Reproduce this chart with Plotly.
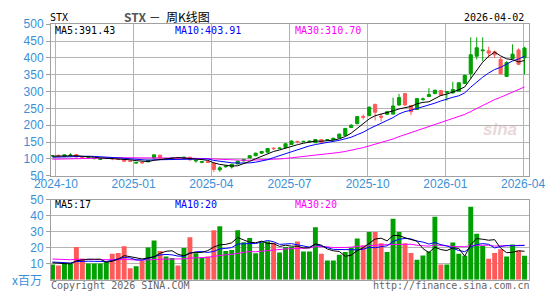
import plotly.graph_objects as go

# ---------------- data ----------------
x_tick_vals = [0.58, 13.58, 26.58, 39.67, 52.75, 65.75, 78.75]
x_tick_text = ["2024-10", "2025-01", "2025-04", "2025-07", "2025-10", "2026-01", "2026-04"]

opens = [109.0, 111.0, 107.5, 110.5, 113.0, 105.0, 103.0, 100.5, 98.5, 101.0,
         101.5, 100.5, 98.0, 94.0, 87.5, 90.0, 91.5, 102.5, 111.0, 100.0,
         101.0, 102.5, 101.5, 105.0, 94.0, 90.0, 92.0, 87.5, 67.5, 76.5,
         76.0, 85.0, 94.0, 103.0, 109.5, 117.0, 120.0, 132.0, 130.5, 134.0,
         143.0, 152.0, 151.0, 150.5, 148.0, 157.0, 156.0, 157.0, 162.5, 169.5,
         193.0, 204.5, 226.0, 228.5, 262.0, 227.0, 232.5, 233.0, 260.0, 294.0,
         258.5, 247.0, 276.0, 285.0, 294.0, 303.0, 297.0, 296.0, 301.0, 324.0,
         353.0, 405.0, 421.0, 421.0, 418.0, 395.0, 345.0, 398.0, 423.5, 400.0]
highs = [111.5, 112.0, 113.0, 117.0, 114.0, 106.0, 105.0, 103.0, 102.0, 102.5,
         104.0, 101.5, 99.0, 95.0, 91.0, 92.0, 97.0, 113.0, 112.0, 101.5,
         104.0, 104.0, 106.0, 106.0, 98.0, 93.0, 93.0, 89.0, 79.0, 80.0,
         85.0, 95.0, 99.5, 111.0, 118.5, 123.0, 132.0, 134.0, 134.0, 146.0,
         155.0, 153.0, 153.5, 153.5, 158.5, 158.0, 158.5, 162.5, 175.0, 191.0,
         203.0, 226.0, 232.0, 256.0, 263.5, 235.0, 241.0, 282.0, 293.0, 295.0,
         260.0, 281.0, 282.0, 310.0, 305.0, 304.0, 302.0, 329.0, 327.0, 350.0,
         461.0, 461.0, 461.0, 433.0, 422.0, 402.0, 390.0, 440.0, 428.0, 433.0]
lows = [106.0, 106.0, 106.5, 109.0, 104.0, 101.0, 101.0, 99.5, 97.5, 100.0,
        96.0, 97.5, 92.0, 91.0, 86.0, 85.0, 90.0, 100.0, 101.0, 99.0,
        100.0, 100.5, 101.0, 96.0, 88.5, 87.0, 88.5, 61.0, 62.0, 74.0,
        71.0, 84.0, 93.0, 102.0, 108.0, 115.0, 118.0, 126.0, 129.0, 133.0,
        142.0, 146.0, 150.0, 149.0, 147.0, 148.0, 155.0, 156.5, 161.0, 169.0,
        192.0, 203.0, 217.0, 226.5, 214.0, 211.0, 230.0, 232.0, 258.0, 258.0,
        230.0, 246.0, 273.0, 284.0, 292.0, 287.0, 273.0, 294.0, 300.0, 322.0,
        339.0, 395.0, 390.0, 400.0, 400.0, 351.0, 343.0, 396.0, 378.0, 351.0]
closes = [109.8, 107.5, 112.0, 111.5, 106.0, 102.5, 103.5, 101.5, 101.0, 101.5,
          100.5, 98.5, 93.0, 93.0, 89.5, 88.5, 96.0, 112.0, 103.0, 100.8,
          103.0, 101.5, 105.0, 97.0, 95.0, 91.5, 89.5, 68.5, 73.5, 78.5,
          84.0, 93.5, 98.0, 109.5, 117.0, 122.0, 131.0, 130.5, 132.0, 145.0,
          153.0, 150.5, 152.0, 152.5, 157.5, 149.5, 157.0, 161.5, 173.5, 190.5,
          200.0, 225.5, 223.5, 253.5, 238.5, 224.0, 240.0, 257.0, 282.0, 260.0,
          240.0, 279.0, 278.0, 291.0, 304.0, 289.0, 300.0, 306.0, 326.0, 348.0,
          409.0, 430.0, 423.0, 414.0, 409.0, 353.0, 386.0, 411.0, 381.0, 429.0]
volumes = [9.5, 8.9, 10.1, 10.1, 20.4, 13.1, 10.1, 10.1, 10.1, 11.1,
           16.1, 16.7, 20.8, 7.1, 8.3, 11.7, 20.0, 24.4, 17.9, 14.5,
           13.5, 8.9, 19.8, 26.4, 16.5, 13.5, 14.5, 30.9, 33.3, 17.9,
           18.5, 30.9, 23.4, 26.0, 16.5, 23.4, 23.8, 23.0, 16.9, 20.4,
           20.4, 23.8, 17.5, 17.5, 32.7, 16.1, 11.9, 11.9, 15.5, 17.3,
           20.0, 25.7, 21.4, 29.8, 29.8, 22.8, 17.3, 38.1, 29.8, 22.8,
           16.7, 12.5, 15.1, 17.5, 39.3, 9.5, 9.5, 23.2, 16.1, 14.9,
           45.5, 28.6, 21.0, 13.1, 16.7, 19.0, 14.5, 22.0, 18.1, 14.9]
# weeks before the first visible candle (only used for moving averages)
prior_closes = [90, 92, 91, 89, 87, 88, 91, 93, 94, 96, 97, 99, 101, 103, 104,
                102, 99, 100, 102, 102, 100, 103, 101, 103, 103, 104, 106.5, 108.5, 111]
prior_volumes = [14, 15, 13, 12, 16, 14, 13, 12, 15, 14, 13, 14, 16, 13, 12,
                 14, 15, 13, 14, 14, 12, 11, 12, 11.5, 11, 10, 11, 11.5, 10.5]

header_left = "STX"
title_text = "<b><span style='color:#555'>STX</span></b> －  周K线图"
date_text = "2026-04-02"
price_ma_text = ["MA5:391.43", "MA10:403.91", "MA30:310.70"]
vol_ma_text = ["MA5:17", "MA10:20", "MA30:20"]
unit_text = "x百万"
copyright_text = "Copyright 2026 SINA.COM"
url_text = "http://finance.sina.com.cn"
price_ticks = [50, 100, 150, 200, 250, 300, 350, 400, 450, 500]
vol_ticks = [10, 20, 30, 40, 50]

# ---------------- helpers ----------------
GREEN = "#00a000"
RED = "#ff5a5a"
BLUE_LBL = "#3a8fd8"
MA_COLORS = ["#000000", "#0000ff", "#ff00ff"]
GRID = "#b4b4b4"
FRAME = "#a0a0a0"
W, H = 545, 300
L, R = 51, 531

idx = list(range(len(closes)))


def moving_avg(prior, vals, n):
    allv = list(prior) + list(vals)
    off = len(prior)
    out = []
    for i in range(len(vals)):
        j = off + i
        win = allv[max(0, j - n + 1): j + 1]
        out.append(sum(win) / len(win))
    return out


def px(x):
    return (x - L) / (R - L)


def py(y):
    return 1 - y / H


fig = go.Figure()

fig.add_trace(go.Candlestick(
    x=idx, open=opens, high=highs, low=lows, close=closes,
    increasing=dict(line=dict(color=GREEN, width=1), fillcolor=GREEN),
    decreasing=dict(line=dict(color=RED, width=1), fillcolor=RED),
    whiskerwidth=0, xaxis="x", yaxis="y", hoverinfo="skip", showlegend=False))

for n, c in zip([30, 10, 5], [MA_COLORS[2], MA_COLORS[1], MA_COLORS[0]]):
    fig.add_trace(go.Scatter(x=idx, y=moving_avg(prior_closes, closes, n), mode="lines",
                             line=dict(color=c, width=1), xaxis="x", yaxis="y",
                             hoverinfo="skip", showlegend=False))

bar_colors = [GREEN if c >= o else RED for o, c in zip(opens, closes)]
fig.add_trace(go.Bar(x=idx, y=volumes, marker=dict(color=bar_colors, line=dict(width=0)),
                     width=0.82, xaxis="x2", yaxis="y2", hoverinfo="skip", showlegend=False))
for n, c in zip([30, 10, 5], [MA_COLORS[2], MA_COLORS[1], MA_COLORS[0]]):
    fig.add_trace(go.Scatter(x=idx, y=moving_avg(prior_volumes, volumes, n), mode="lines",
                             line=dict(color=c, width=1), xaxis="x2", yaxis="y2",
                             hoverinfo="skip", showlegend=False))

xr = [-0.25, 79.75]
axis_font = dict(family="Liberation Sans, Arial", size=12, color=BLUE_LBL)

fig.update_layout(
    width=W, height=H, margin=dict(l=L, r=W - R, t=0, b=0),
    paper_bgcolor="white", plot_bgcolor="white", showlegend=False,
    boxgap=0.25,
    xaxis=dict(domain=[0, 1], range=xr, anchor="y", showgrid=True, gridcolor=GRID,
               gridwidth=1, tickvals=x_tick_vals, ticktext=x_tick_text, tickfont=axis_font,
               ticks="", showline=True, mirror=True, linecolor=FRAME, linewidth=1,
               ticklabeloverflow="allow", ticklabelstandoff=-3,
               zeroline=False, rangeslider=dict(visible=False), fixedrange=True),
    yaxis=dict(domain=[py(177), py(18)], range=[50, 500], tickvals=price_ticks,
               tickfont=axis_font, showgrid=True, gridcolor=GRID, ticks="outside",
               ticklen=4, tickcolor=FRAME, showline=True, mirror=True, linecolor=FRAME,
               zeroline=False, fixedrange=True),
    xaxis2=dict(domain=[0, 1], range=xr, anchor="y2", showgrid=False, showticklabels=False,
                ticks="", showline=True, mirror=True, linecolor=FRAME, zeroline=False,
                fixedrange=True),
    yaxis2=dict(domain=[py(286), py(202)], range=[0, 50], tickvals=vol_ticks,
                tickfont=axis_font, showgrid=True, gridcolor=GRID, ticks="outside",
                ticklen=4, tickcolor=FRAME, showline=True, mirror=True, linecolor=FRAME,
                zeroline=False, fixedrange=True),
)

MONO = "DejaVu Sans Mono"


def note(text, x, y, color="#000", size=10, family=MONO, anchor="left"):
    fig.add_annotation(text=text, x=px(x), y=py(y), xref="paper", yref="paper",
                       xanchor=anchor, yanchor="middle", showarrow=False,
                       font=dict(family=family, size=size, color=color))


note(header_left, 48, 11)
note(title_text, 122, 10, color="#000", size=12, family="Noto Sans CJK SC")
note(date_text, 528, 11, anchor="right")
for t, x, c in zip(price_ma_text, [53, 174, 294], MA_COLORS):
    note(t, x, 25, color=c)
for t, x, c in zip(vol_ma_text, [53, 174, 294], MA_COLORS):
    note(t, x, 207, color=c)
note(unit_text, 44, 286, color=BLUE_LBL, size=12, family="Noto Sans CJK SC", anchor="right")
note(copyright_text, 49, 292, color="#666")
note(url_text, 372, 292, color="#666")
note("<i><b>sina</b></i>", 502, 128, color="#ead8d8", size=17, family="Liberation Sans", anchor="center")

fig.write_html("out.html")
